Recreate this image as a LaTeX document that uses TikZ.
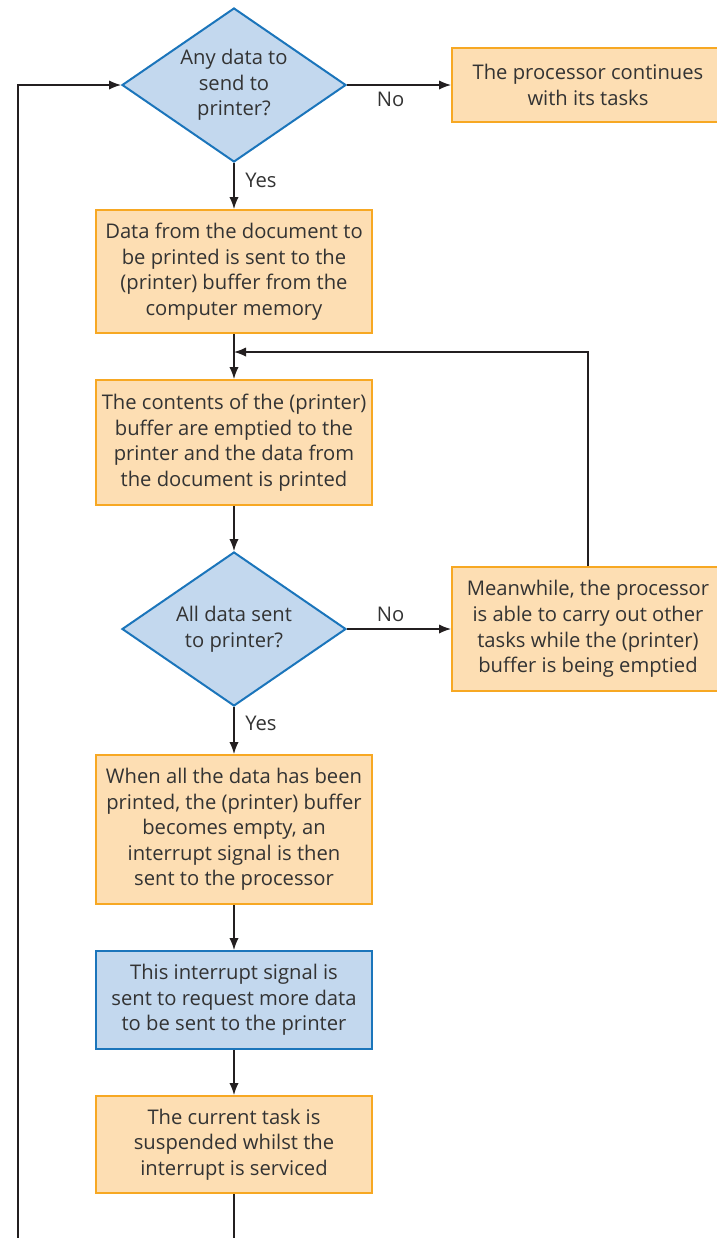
\documentclass[tikz,border=0pt]{standalone}
\usepackage{fontspec}
\setmainfont{Open Sans}
\usetikzlibrary{arrows.meta, shapes.geometric}

\definecolor{boxorange}{HTML}{F7A823}
\definecolor{fillorange}{HTML}{FDDEB3}
\definecolor{boxblue}{HTML}{1B75BB}
\definecolor{fillblue}{HTML}{C3D8EE}
\definecolor{textgray}{HTML}{333333}
\definecolor{linegray}{HTML}{231F20}

\tikzset{
  process/.style={draw=boxorange, fill=fillorange, line width=1pt, align=center,
    text=textgray, minimum width=138pt, inner sep=2pt},
  signal/.style={process, draw=boxblue, fill=fillblue},
  decision/.style={diamond, aspect=1.45, draw=boxblue, fill=fillblue, line width=1pt,
    align=center, text=textgray, inner sep=0pt, minimum width=112pt, minimum height=77pt},
  flow/.style={-{Latex[length=6pt, width=4.6pt]}, linegray, line width=0.6pt},
  plain/.style={linegray, line width=0.6pt},
  lab/.style={text=textgray}
}

\begin{document}
\begin{tikzpicture}[x=0.5pt, y=-0.5pt, font=\fontsize{10.1}{12.8}\selectfont]
    \useasboundingbox (0,0) rectangle (717,1238);

    % Entscheidungen
    \node[decision] (any) at (234, 85) {Any data to\\send to\\printer?};
    \node[decision] (all) at (234, 629) {All data sent\\to printer?};

    % Kästen
    \node[process, minimum height=37pt, minimum width=136pt] (cont) at (588, 85)
        {The processor continues\\with its tasks};
    \node[process, minimum height=61.5pt] (send) at (234, 271.5)
        {Data from the document to\\be printed is sent to the\\(printer) buffer from the\\computer memory};
    \node[process, minimum height=62.5pt] (empty) at (234, 442.5)
        {The contents of the (printer)\\buffer are emptied to the\\printer and the data from\\the document is printed};
    \node[process, minimum height=62pt, minimum width=136pt] (other) at (588, 629)
        {Meanwhile, the processor\\is able to carry out other\\tasks while the (printer)\\buffer is being emptied};
    \node[process, minimum height=74.5pt] (irq) at (234, 829.5)
        {When all the data has been\\printed, the (printer) buffer\\becomes empty, an\\interrupt signal is then\\sent to the processor};
    \node[signal, minimum height=49pt] (req) at (234, 1000)
        {This interrupt signal is\\sent to request more data\\to be sent to the printer};
    \node[process, minimum height=48.5pt] (susp) at (234, 1144.5)
        {The current task is\\suspended whilst the\\interrupt is serviced};

    % Hilfspunkte
    \coordinate (join) at (234, 352);
    \coordinate (loopend) at (18, 1238);
    \coordinate (downend) at (234, 1238);

    % Verbindungen
    \draw[flow] (any.east) -- node[lab, below, pos=0.42] {No} (cont.west);
    \draw[flow] (any.south) -- node[lab, right, pos=0.38, xshift=2pt] {Yes} (send.north);
    \draw[flow] (send.south) -- (empty.north);
    \draw[flow] (other.north) |- (join);
    \draw[flow] (empty.south) -- (all.north);
    \draw[flow] (all.east) -- node[lab, above, pos=0.42] {No} (other.west);
    \draw[flow] (all.south) -- node[lab, right, pos=0.35, xshift=2pt] {Yes} (irq.north);
    \draw[flow] (irq.south) -- (req.north);
    \draw[flow] (req.south) -- (susp.north);
    \draw[plain] (susp.south) -- (downend);
    \draw[flow] (loopend) |- (any.west);
\end{tikzpicture}
\end{document}
